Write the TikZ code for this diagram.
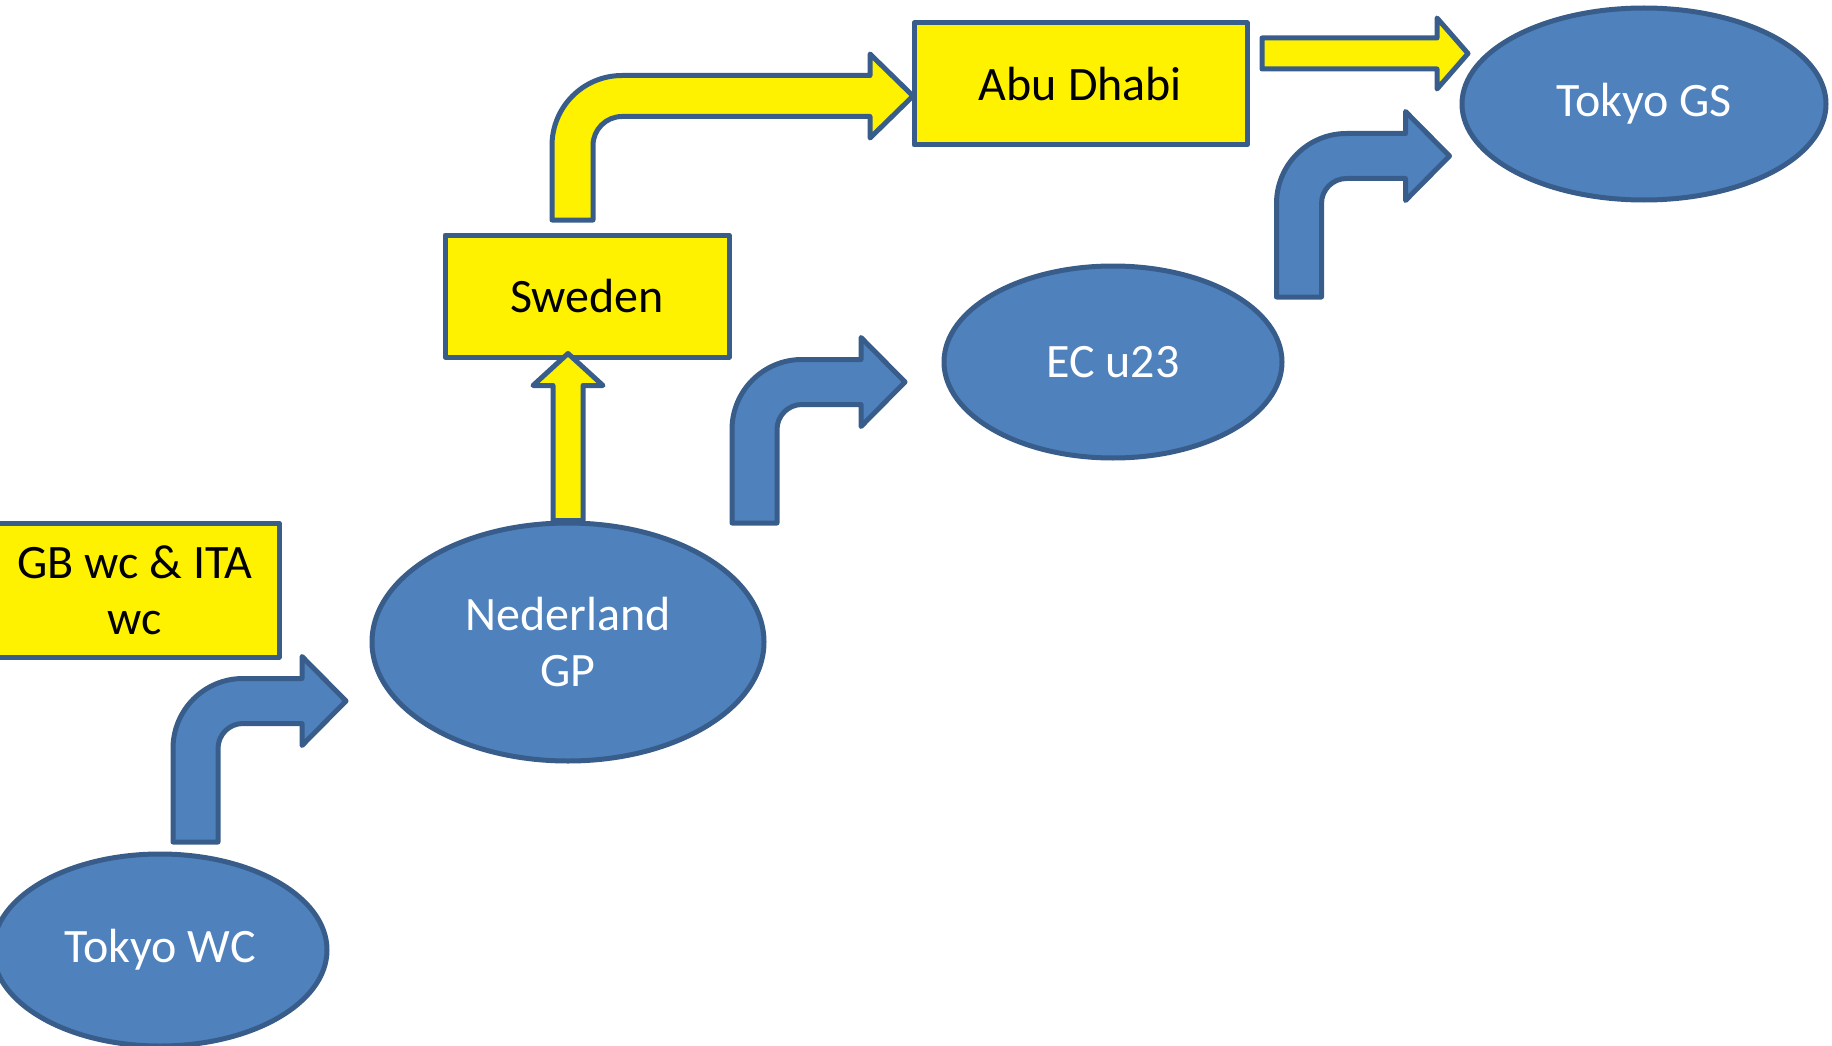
\documentclass[tikz,border=0pt]{standalone}
\usepackage{fontspec}
\setmainfont{Carlito}
\usetikzlibrary{shapes.geometric}

\definecolor{stageblue}{HTML}{4F81BD}
\definecolor{edgeblue}{HTML}{385D8A}

\tikzset{
  blueshape/.style={fill=stageblue, draw=edgeblue, line width=5pt, line join=round},
  yellowshape/.style={fill=yellow, draw=edgeblue, line width=5pt, line join=round},
  stage/.style={ellipse, blueshape, text=white, inner sep=0pt,
    font=\fontsize{48}{56}\selectfont, align=center},
  camp/.style={rectangle, yellowshape, text=black, inner sep=0pt,
    font=\fontsize{48}{56}\selectfont, align=center},
  % bent block arrow: half width, rise, run, head extend
  pics/bendarrow/.style n args={4}{code={
    \path[pic actions] (-#1,0) -- (-#1,{70-#2-#1})
      arc[start angle=180, end angle=90, radius=70pt]
      -- ({#3-2*#4},{-#2-#1}) -- ({#3-2*#4},{-#2-#1-#4}) -- (#3,-#2)
      -- ({#3-2*#4},{-#2+#1+#4}) -- ({#3-2*#4},{-#2+#1}) -- ({70-#1},{-#2+#1})
      arc[start angle=90, end angle=180, radius={(70-2*#1)*1pt}]
      -- (#1,0) -- cycle;
  }},
  % straight block arrow: length, half width, head extend, head length
  pics/flatarrow/.style n args={4}{code={
    \path[pic actions] (0,-#2) -- ({#1-#4},-#2) -- ({#1-#4},{-#2-#3}) -- (#1,0)
      -- ({#1-#4},{#2+#3}) -- ({#1-#4},#2) -- (0,#2) -- cycle;
  }}
}

\begin{document}
\begin{tikzpicture}[x=1pt,y=-1pt]
  \useasboundingbox (0,0) rectangle (1832,1046);

  \node[stage, minimum width=334pt, minimum height=192pt] (tokwc) at (160,950) {Tokyo WC};
  \node[camp, minimum width=288pt, minimum height=134pt] (gbita) at (135,590) {GB wc \& ITA\\wc};
  \node[stage, minimum width=392pt, minimum height=238pt] (ned) at (568,642) {Nederland\\GP};
  \node[camp, minimum width=284pt, minimum height=122pt] (swe) at (587,296) {Sweden};
  \node[stage, minimum width=338pt, minimum height=192pt] (ecu) at (1113,362) {EC u23};
  \node[camp, minimum width=333pt, minimum height=122pt] (abu) at (1080.5,84) {Abu Dhabi};
  \node[stage, minimum width=364pt, minimum height=192pt] (tokgs) at (1644,104) {Tokyo GS};

  \coordinate (bendA) at (195.5,842);
  \coordinate (bendB) at (754.5,523);
  \coordinate (bendC) at (1299,297);
  \coordinate (bendS) at (572.5,220);
  \coordinate (flatT) at (1262,53.5);

  \pic[blueshape] at (bendA) {bendarrow={22.5}{141}{150.5}{22}};
  \pic[blueshape] at (bendB) {bendarrow={22.5}{141}{150.5}{22}};
  \pic[blueshape] at (bendC) {bendarrow={22.5}{141}{150.5}{22}};
  \pic[yellowshape] at (bendS) {bendarrow={20.5}{124}{340.5}{21.5}};
  \pic[yellowshape, rotate=90] at (ned.north) {flatarrow={167}{15}{20}{32}};
  \pic[yellowshape] at (flatT) {flatarrow={206}{15.5}{20}{31}};
\end{tikzpicture}
\end{document}
